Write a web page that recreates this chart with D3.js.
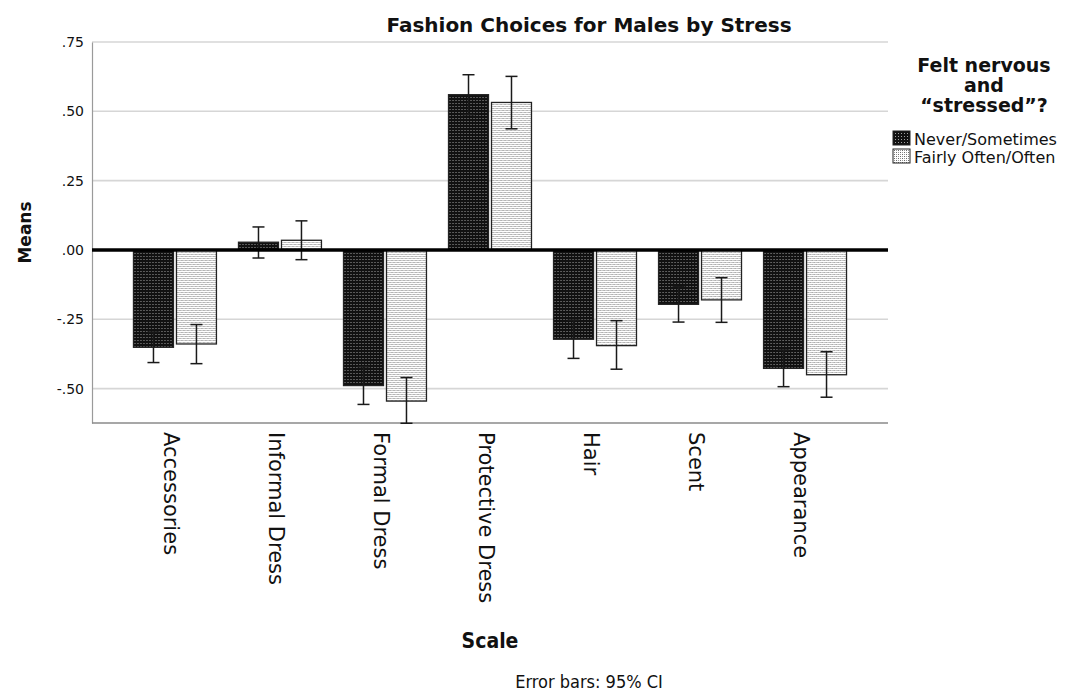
<!DOCTYPE html>
<html>
<head>
<meta charset="utf-8">
<script src="https://cdn.jsdelivr.net/npm/d3@7"></script>
<style>
 body { margin: 0; background: #fff; }
 text { font-family: "DejaVu Sans", sans-serif; fill: #111; }
</style>
</head>
<body>
<div id="chart"></div>
<script>
// scales on x axis
var categories = ["Accessories", "Informal Dress", "Formal Dress", "Protective Dress", "Hair", "Scent", "Appearance"];
var groups = ["Never/Sometimes", "Fairly Often/Often"];

// means and 95% CI
var neverMean  = [-0.351, 0.028, -0.489, 0.560, -0.322, -0.196, -0.427];
var neverLow   = [-0.406, -0.029, -0.557, 0.488, -0.391, -0.260, -0.493];
var neverHigh  = [-0.296, 0.083, -0.421, 0.632, -0.253, -0.132, -0.361];
var oftenMean  = [-0.339, 0.035, -0.545, 0.532, -0.345, -0.180, -0.450];
var oftenLow   = [-0.410, -0.035, -0.625, 0.437, -0.430, -0.261, -0.531];
var oftenHigh  = [-0.269, 0.105, -0.460, 0.626, -0.255, -0.100, -0.367];

var yTicks = [0.75, 0.50, 0.25, 0, -0.25, -0.50];
var yTickLabels = [".75", ".50", ".25", ".00", "-.25", "-.50"];

function init(){

 var width = 1080, height = 693;
 var left = 92, right = 888, top = 42, bottom = 423;

 var svg = d3.select("#chart")
   .append("svg")
   .attr("width", width)
   .attr("height", height);

 // fill patterns
 var defs = svg.append("defs");
 var pd = defs.append("pattern").attr("id", "darkPat")
   .attr("patternUnits", "userSpaceOnUse").attr("width", 3).attr("height", 3);
 pd.append("rect").attr("width", 3).attr("height", 3).attr("fill", "#111");
 pd.append("rect").attr("x", 1).attr("y", 1).attr("width", 1).attr("height", 1).attr("fill", "#a0a0a0");

 var pl = defs.append("pattern").attr("id", "lightPat")
   .attr("patternUnits", "userSpaceOnUse").attr("width", 4).attr("height", 4);
 pl.append("rect").attr("width", 4).attr("height", 4).attr("fill", "#fff");
 [[0,0],[2,2],[2,0],[0,2]].forEach(function(p, i){
   pl.append("rect").attr("x", p[0]).attr("y", p[1]).attr("width", 1).attr("height", 1)
     .attr("fill", i < 2 ? "#6a6a6a" : "#9a9a9a");
 });

 var fills = {"Never/Sometimes": "url(#darkPat)", "Fairly Often/Often": "url(#lightPat)"};

 // scales
 var x0 = d3.scaleBand()
   .domain(categories)
   .range([left, right])
   .paddingInner(0.21)
   .paddingOuter(0.395);

 var x1 = d3.scaleBand()
   .domain(groups)
   .range([0, x0.bandwidth()])
   .paddingInner(0.07);

 var y = d3.scaleLinear()
   .domain([-0.624, 0.75])
   .range([bottom, top]);

 // gridlines
 svg.append("g")
   .selectAll("line")
   .data(yTicks.filter(function(d){ return d != 0; }))
   .enter()
   .append("line")
   .attr("x1", left).attr("x2", right)
   .attr("y1", function(d){ return y(d); })
   .attr("y2", function(d){ return y(d); })
   .attr("stroke", "#d6d6d6")
   .attr("stroke-width", 1.6);

 // y axis
 var yAxis = svg.append("g")
   .attr("transform", "translate(" + left + ",0)")
   .call(d3.axisLeft(y).tickValues(yTicks).tickSize(0).tickPadding(8)
     .tickFormat(function(d, i){ return yTickLabels[i]; }));
 yAxis.select(".domain").attr("stroke", "#9a9a9a").attr("stroke-width", 1.2);
 yAxis.selectAll("text")
   .style("font-family", "DejaVu Sans")
   .style("font-size", "14px")
   .attr("fill", "#222");

 // bottom axis line
 svg.append("line")
   .attr("x1", left).attr("x2", right)
   .attr("y1", bottom).attr("y2", bottom)
   .attr("stroke", "#8a8a8a")
   .attr("stroke-width", 1.5);

 // rows of data
 var rows = categories.map(function(c, i){
   return [
     {cat: c, group: groups[0], mean: neverMean[i], lo: neverLow[i], hi: neverHigh[i]},
     {cat: c, group: groups[1], mean: oftenMean[i], lo: oftenLow[i], hi: oftenHigh[i]}
   ];
 });

 var cat = svg.append("g")
   .selectAll("g")
   .data(rows)
   .enter()
   .append("g")
   .attr("transform", function(d){ return "translate(" + x0(d[0].cat) + ",0)"; });

 cat.selectAll("rect")
   .data(function(d){ return d; })
   .enter()
   .append("rect")
   .attr("x", function(d){ return x1(d.group); })
   .attr("y", function(d){ return y(Math.max(0, d.mean)); })
   .attr("width", x1.bandwidth())
   .attr("height", function(d){ return Math.abs(y(d.mean) - y(0)); })
   .attr("fill", function(d){ return fills[d.group]; })
   .attr("stroke", "#222")
   .attr("stroke-width", 1.3);

 // zero line
 svg.append("line")
   .attr("x1", left).attr("x2", right)
   .attr("y1", y(0)).attr("y2", y(0))
   .attr("stroke", "#000")
   .attr("stroke-width", 3.5);

 // error bars
 var eb = cat.selectAll(".err")
   .data(function(d){ return d; })
   .enter()
   .append("g")
   .attr("class", "err")
   .attr("stroke", "#1a1a1a")
   .attr("stroke-width", 1.5);
 var cx = function(d){ return x1(d.group) + x1.bandwidth() / 2; };
 eb.append("line")
   .attr("x1", cx).attr("x2", cx)
   .attr("y1", function(d){ return y(d.lo); })
   .attr("y2", function(d){ return y(d.hi); });
 eb.append("line")
   .attr("x1", function(d){ return cx(d) - 6; }).attr("x2", function(d){ return cx(d) + 6; })
   .attr("y1", function(d){ return y(d.lo); })
   .attr("y2", function(d){ return y(d.lo); });
 eb.append("line")
   .attr("x1", function(d){ return cx(d) - 6; }).attr("x2", function(d){ return cx(d) + 6; })
   .attr("y1", function(d){ return y(d.hi); })
   .attr("y2", function(d){ return y(d.hi); });

 // category labels, rotated
 svg.append("g")
   .selectAll("text")
   .data(categories)
   .enter()
   .append("text")
   .attr("transform", function(d){
     return "translate(" + (x0(d) + x0.bandwidth() / 2 - 11) + "," + (bottom + 9) + ") rotate(90)";
   })
   .style("font-size", "21px")
   .attr("text-anchor", "start")
   .text(function(d){ return d; });

 // title
 svg.append("text")
   .attr("x", 589).attr("y", 32)
   .attr("text-anchor", "middle")
   .style("font-size", "20px")
   .style("font-weight", "bold")
   .text("Fashion Choices for Males by Stress");

 // Y axis label
 svg.append("text")
   .attr("transform", "translate(31," + ((top + bottom) / 2) + ") rotate(-90)")
   .attr("text-anchor", "middle")
   .style("font-size", "17px")
   .style("font-weight", "bold")
   .text("Means");

 // X axis label
 svg.append("text")
   .attr("x", (left + right) / 2).attr("y", 648)
   .attr("text-anchor", "middle")
   .style("font-family", "'DejaVu Sans Condensed', 'DejaVu Sans', sans-serif")
   .style("font-stretch", "condensed")
   .style("font-size", "21px")
   .style("font-weight", "bold")
   .text("Scale");

 svg.append("text")
   .attr("x", 589).attr("y", 688)
   .attr("text-anchor", "middle")
   .style("font-family", "'DejaVu Sans Condensed', 'DejaVu Sans', sans-serif")
   .style("font-stretch", "condensed")
   .style("font-size", "18px")
   .attr("fill", "#222")
   .text("Error bars: 95% CI");

 // legend
 var legTitle = ["Felt nervous", "and", "\u201Cstressed\u201D?"];
 svg.append("g")
   .selectAll("text")
   .data(legTitle)
   .enter()
   .append("text")
   .attr("x", 984)
   .attr("y", function(d, i){ return 72 + i * 20; })
   .attr("text-anchor", "middle")
   .style("font-size", "19px")
   .style("font-weight", "bold")
   .text(function(d){ return d; });

 svg.selectAll("legrect")
   .data(groups)
   .enter()
   .append("rect")
   .attr("x", 893)
   .attr("y", function(d, i){ return 131 + i * 18; })
   .attr("width", 17)
   .attr("height", 14)
   .attr("fill", function(d){ return fills[d]; })
   .attr("stroke", "#222")
   .attr("stroke-width", 1);

 svg.selectAll("leglabels")
   .data(groups)
   .enter()
   .append("text")
   .attr("x", 914)
   .attr("y", function(d, i){ return 145 + i * 18; })
   .style("font-size", "16px")
   .text(function(d){ return d; });
}
window.onload = init;
</script>
</body>
</html>
